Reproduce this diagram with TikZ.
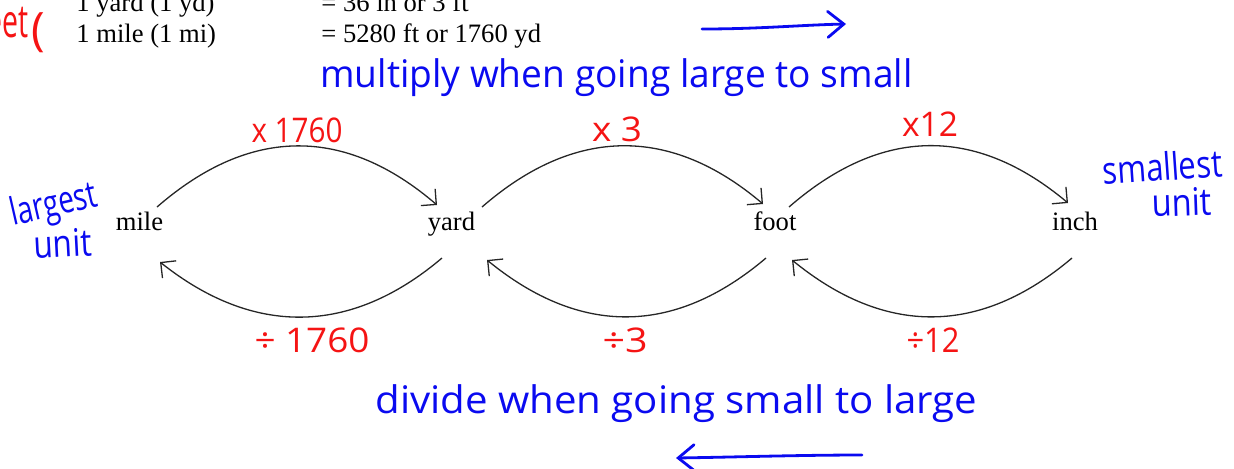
\documentclass[tikz,border=0pt]{standalone}
\usepackage{fontspec}
\usepackage{graphicx}
\setmainfont{Liberation Serif}
\newfontfamily\hand{Open Sans}
\usetikzlibrary{arrows.meta,calc}
\newcommand{\fitw}[2]{\resizebox{#1}{\height}{#2}}
\definecolor{inkblue}{RGB}{10,10,240}
\definecolor{inkred}{RGB}{245,20,20}
\begin{document}
\begin{tikzpicture}[x=0.5pt,y=-0.5pt,
  unitlab/.style={font=\fontsize{13.3}{16}\selectfont, inner sep=0pt, anchor=base},
  hdr/.style={font=\fontsize{13.3}{16}\selectfont, inner sep=0pt, anchor=base west},
  conv/.style={draw=black!85, line width=0.65pt, -{Straight Barb[length=5.5pt,width=11pt]}},
  redlab/.style={text=inkred, font=\hand\fontsize{17}{20}\selectfont, inner sep=0pt},
  bluelab/.style={text=inkblue, font=\hand\fontsize{19}{22}\selectfont, inner sep=0pt, anchor=base west},
  bluearrow/.style={draw=inkblue, line width=1.4pt, line cap=round, line join=round, -{Straight Barb[length=8pt,width=13pt,line cap=round]}}
]
\useasboundingbox (0,0) rectangle (1234,468);
\clip (0,0) rectangle (1234,468);

% header table
\node[hdr] (h1a) at (76,11) {1 yard (1 yd)};
\node[hdr] (h1b) at (321,11) {= 36 in or 3 ft};
\node[hdr] (h2a) at (76,42) {1 mile (1 mi)};
\node[hdr] (h2b) at (321,42) {= 5280 ft or 1760 yd};
\node[text=inkred, font=\hand\fontsize{23}{26}\selectfont, inner sep=0pt, anchor=base east] (et) at (29,37) {\fitw{21pt}{eet}};
\node[text=inkred, font=\hand\fontsize{23}{26}\selectfont, inner sep=0pt, anchor=base west] (par) at (31,45) {(};

% handwritten notes
\coordinate (m1) at (702,29);
\coordinate (m2) at (846,24);
\draw[bluearrow] (m1) .. controls (760,29) and (800,25) .. (m2);
\node[bluelab] (mult) at (320,87) {\fitw{296pt}{multiply when going large to small}};
\node[bluelab] (div) at (375,413) {\fitw{301pt}{divide when going small to large}};
\coordinate (d1) at (862,455);
\coordinate (d2) at (676,458);
\draw[bluearrow] (d1) .. controls (800,455) and (740,457) .. (d2);

\node[bluelab, rotate=13] (largest) at (13,226) {\fitw{44pt}{largest}};
\node[bluelab, rotate=3] (unitl) at (34,259) {\fitw{29pt}{unit}};
\node[bluelab, rotate=4] (smallest) at (1103,185) {\fitw{60pt}{smallest}};
\node[bluelab, rotate=2] (unitr) at (1152,217) {\fitw{30pt}{unit}};

% units
\node[unitlab] (mile) at (139.5,230) {mile};
\node[unitlab] (yard) at (451.5,230) {yard};
\node[unitlab] (foot) at (775,230) {foot};
\node[unitlab] (inch) at (1075,230) {inch};

% multiply arcs
\draw[conv] ($(mile.base)+(17.5,-23)$) .. controls +(93,-81) and +(-92,-79) .. ($(yard.base)+(-14.5,-25)$);
\draw[conv] ($(yard.base)+(30.5,-23)$) .. controls +(93,-81) and +(-92,-78) .. ($(foot.base)+(-12,-26)$);
\draw[conv] ($(foot.base)+(14,-23)$) .. controls +(93,-81) and +(-92,-77) .. ($(inch.base)+(-7,-27)$);
% divide arcs
\draw[conv] ($(yard.base)+(-9.5,28)$) .. controls +(-92,78) and +(93,74) .. ($(mile.base)+(20.5,32)$);
\draw[conv] ($(foot.base)+(-9,28)$) .. controls +(-92,78) and +(93,76) .. ($(yard.base)+(35.5,30)$);
\draw[conv] ($(inch.base)+(-3,28)$) .. controls +(-92,78) and +(93,76) .. ($(foot.base)+(17,30)$);

% factor labels
\node[redlab] (t1) at (297,130) {\fitw{45.5pt}{x 1760}};
\node[redlab] (t2) at (617,129) {\fitw{25pt}{x 3}};
\node[redlab] (t3) at (930,124) {\fitw{28pt}{x12}};
\node[redlab] (b1) at (312,340) {\fitw{57.5pt}{÷ 1760}};
\node[redlab] (b2) at (625,340) {\fitw{22.5pt}{÷3}};
\node[redlab] (b3) at (933,340) {\fitw{26.5pt}{÷12}};
\end{tikzpicture}
\end{document}
